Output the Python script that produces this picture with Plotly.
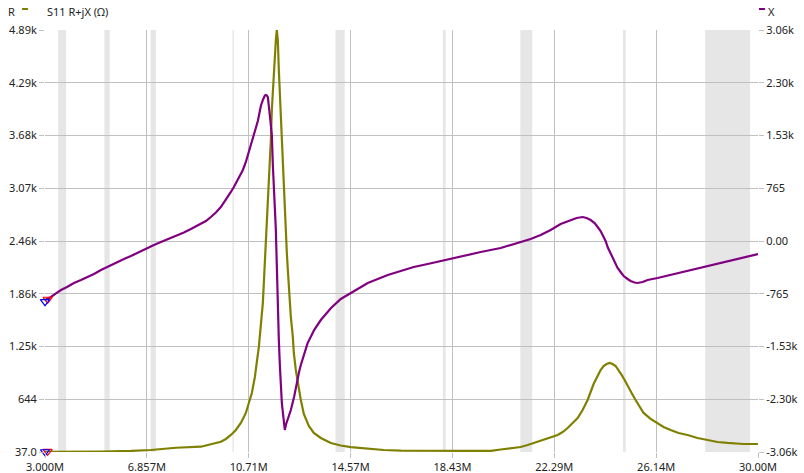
import plotly.graph_objects as go

# ---- data (MHz, ohms) ----
freq_r = [3.000, 3.984, 5.119, 6.254, 7.011, 7.957, 8.903, 9.282, 9.660, 9.849, 10.039,
          10.228, 10.417, 10.606, 10.720, 10.833, 10.947, 11.022, 11.098, 11.174, 11.250,
          11.287, 11.325, 11.363, 11.401, 11.439, 11.477, 11.514, 11.552, 11.590, 11.628,
          11.666, 11.704, 11.742, 11.779, 11.817, 11.855, 11.893, 11.931, 11.969, 12.006,
          12.044, 12.082, 12.120, 12.158, 12.196, 12.233, 12.271, 12.309, 12.385, 12.423,
          12.498, 12.574, 12.688, 12.801, 12.990, 13.180, 13.444, 13.823, 14.201, 14.580,
          15.223, 15.828, 16.472, 18.099, 19.878, 20.256, 20.634, 21.013, 21.278, 21.505,
          21.770, 22.035, 22.224, 22.413, 22.602, 22.791, 22.980, 23.170, 23.359, 23.548,
          23.662, 23.775, 23.927, 24.040, 24.154, 24.267, 24.381, 24.494, 24.608, 24.721,
          24.835, 24.949, 25.062, 25.214, 25.365, 25.516, 25.668, 25.933, 26.197, 26.424,
          26.689, 26.992, 27.333, 27.711, 28.089, 28.468, 28.846, 29.452, 30.000]
r_vals = [40, 40, 43, 49, 60, 86, 98, 126, 155, 187, 233,
          290, 371, 486, 589, 716, 900, 1072, 1245, 1498, 1751,
          1981, 2211, 2360, 2556, 2786, 3130, 3395, 3625, 3970, 4200,
          4373, 4568, 4775, 4890, 4775, 4430, 4143, 3970, 3740, 3453,
          3107, 2820, 2533, 2325, 2130, 1935, 1751, 1590, 1360, 1176,
          980, 831, 635, 474, 336, 256, 198, 141, 112, 94,
          77, 60, 52, 49, 49, 66, 77, 94, 118, 141,
          164, 187, 210, 233, 267, 313, 371, 428, 520, 635,
          727, 819, 911, 980, 1026, 1049, 1061, 1049, 1026, 980,
          923, 865, 796, 716, 635, 555, 486, 417, 371, 325,
          290, 256, 233, 198, 175, 152, 141, 129, 129]

freq_x = [3.000, 3.227, 3.416, 3.605, 3.833, 4.097, 4.362, 4.627, 4.854, 5.119, 5.422,
          5.762, 5.990, 6.254, 6.557, 6.860, 7.125, 7.390, 7.692, 7.957, 8.260,
          8.525, 8.714, 8.903, 9.093, 9.282, 9.471, 9.660, 9.849, 10.039, 10.152,
          10.304, 10.417, 10.493, 10.606, 10.682, 10.795, 10.909, 10.985, 11.060, 11.136,
          11.174, 11.250, 11.287, 11.325, 11.363, 11.401, 11.439, 11.477, 11.514, 11.552,
          11.590, 11.628, 11.666, 11.704, 11.742, 11.761, 11.779, 11.817, 11.836, 11.855,
          11.893, 11.931, 11.969, 12.006, 12.044, 12.082, 12.120, 12.184, 12.309, 12.434,
          12.498, 12.563, 12.623, 12.688, 12.813, 12.941, 13.066, 13.191, 13.444, 13.823,
          14.201, 14.580, 14.958, 15.223, 15.601, 15.980, 16.472, 16.964, 17.493, 17.985,
          18.742, 19.499, 20.256, 21.013, 21.391, 21.770, 22.148, 22.526, 22.905, 23.132,
          23.359, 23.510, 23.662, 23.813, 23.927, 24.040, 24.116, 24.229, 24.305, 24.418,
          24.494, 24.608, 24.683, 24.797, 24.911, 25.062, 25.176, 25.327, 25.441, 25.630,
          25.819, 26.197, 26.689, 27.824, 28.960, 30.000]
x_vals = [-856, -812, -761, -711, -667, -609, -566, -522, -479, -421, -363,
          -305, -261, -218, -160, -102, -58, -15, 29, 72, 123,
          174, 210, 246, 290, 348, 413, 493, 595, 711, 783,
          885, 972, 1030, 1146, 1247, 1392, 1537, 1639, 1740, 1885,
          1958, 2045, 2088, 2110, 2117, 2110, 2088, 1987, 1827, 1682,
          1537, 1102, 667, 478, 159, -174, -421, -856, -1175, -1436,
          -1798, -2161, -2349, -2480, -2596, -2741, -2668, -2596, -2451, -2258,
          -2113, -1987, -1895, -1798, -1629, -1484, -1388, -1291, -1146, -976,
          -841, -754, -667, -609, -551, -493, -435, -377, -334, -290,
          -232, -160, -102, -15, 29, 87, 159, 246, 304, 333,
          348, 333, 304, 261, 203, 145, 87, 0, -87, -174,
          -247, -334, -392, -450, -508, -551, -580, -602, -609, -595,
          -566, -537, -493, -392, -290, -189]

marker_freqs = [3.10, 3.00]          # red, blue sweep markers
marker_colors = ["#ff0000", "#0000ff"]
marker_r = [45, 40]
marker_x = [-845, -880]

r_ticks = [37, 643.6, 1250.3, 1856.9, 2463.5, 3070.1, 3676.8, 4283.4, 4890]
r_labels = ["37.0", "644", "1.25k", "1.86k", "2.46k", "3.07k", "3.68k", "4.29k", "4.89k"]
x_ticks = [-3060, -2295, -1530, -765, 0, 765, 1530, 2295, 3060]
x_labels = ["-3.06k", "-2.30k", "-1.53k", "-765", "0.00", "765", "1.53k", "2.30k", "3.06k"]
f_ticks = [3.0, 6.857, 10.714, 14.571, 18.429, 22.286, 26.143, 30.0]
f_labels = ["3.000M", "6.857M", "10.71M", "14.57M", "18.43M", "22.29M", "26.14M", "30.00M"]
bands = [(3.5, 3.8), (5.25, 5.45), (7.0, 7.2), (10.1, 10.15), (14.0, 14.35),
         (18.068, 18.168), (21.0, 21.45), (24.89, 24.99), (28.0, 29.7)]

R_COLOR = "#808000"
X_COLOR = "#800080"
GRID = "#c0c0c0"
FONT = "Noto Sans"

fig = go.Figure()
fig.add_trace(go.Scatter(x=freq_r, y=r_vals, mode="lines", name="R",
                         line=dict(color=R_COLOR, width=2.2), yaxis="y", showlegend=False))
fig.add_trace(go.Scatter(x=freq_x, y=x_vals, mode="lines", name="X",
                         line=dict(color=X_COLOR, width=2.2), yaxis="y2", showlegend=False))
for f, c, rv, xv in zip(marker_freqs, marker_colors, marker_r, marker_x):
    fig.add_trace(go.Scatter(x=[f], y=[rv], mode="markers", yaxis="y", showlegend=False,
                             cliponaxis=False,
                             marker=dict(symbol="triangle-down-open", size=8, color=c,
                                         line=dict(width=1.2, color=c))))
    fig.add_trace(go.Scatter(x=[f], y=[xv], mode="markers", yaxis="y2", showlegend=False,
                             cliponaxis=False,
                             marker=dict(symbol="triangle-down-open", size=8, color=c,
                                         line=dict(width=1.2, color=c))))

shapes = []
for a, b in bands:
    shapes.append(dict(type="rect", xref="x", yref="paper", x0=a, x1=b, y0=0, y1=1,
                       fillcolor="#e6e6e6", line=dict(width=0), layer="below"))
# legend swatches
shapes.append(dict(type="line", xref="paper", yref="paper", x0=-0.0323, x1=-0.0238,
                   y0=1.0498, y1=1.0498, line=dict(color=R_COLOR, width=2)))
shapes.append(dict(type="line", xref="paper", yref="paper", x0=1.0014, x1=1.0098,
                   y0=1.0498, y1=1.0498, line=dict(color=X_COLOR, width=2)))

annotations = [
    dict(text="S11 R+jX (Ω)", xref="paper", yref="paper", x=0.0, y=1.045,
         xanchor="left", yanchor="middle", showarrow=False, font=dict(size=11, color="#222")),
    dict(text="R", xref="paper", yref="paper", x=-0.0475, y=1.045,
         xanchor="center", yanchor="middle", showarrow=False, font=dict(size=11, color="#222")),
    dict(text="X", xref="paper", yref="paper", x=1.0185, y=1.045,
         xanchor="center", yanchor="middle", showarrow=False, font=dict(size=11, color="#222")),
]

axis_common = dict(zeroline=False, showline=False, automargin=False,
                   ticks="outside", ticklen=5, tickcolor=GRID, tickfont=dict(size=11))

fig.update_layout(
    template="none",
    width=804, height=473,
    margin=dict(l=45, r=46, t=30, b=21, pad=0),
    paper_bgcolor="white", plot_bgcolor="white",
    font=dict(family=FONT, size=11, color="#222"),
    shapes=shapes, annotations=annotations,
    xaxis=dict(range=[3, 30], tickvals=f_ticks, ticktext=f_labels, showgrid=True,
               gridcolor=GRID, gridwidth=1, **axis_common),
    yaxis=dict(range=[37, 4890], tickvals=r_ticks, ticktext=r_labels, showgrid=True,
               gridcolor=GRID, gridwidth=1, **axis_common),
    yaxis2=dict(range=[-3060, 3060], tickvals=x_ticks, ticktext=x_labels, overlaying="y",
                side="right", showgrid=False, **axis_common),
    showlegend=False,
)

fig.write_html("out.html", config={"displayModeBar": False},
               post_script="document.body.style.margin='0';document.body.style.overflow='hidden';")
